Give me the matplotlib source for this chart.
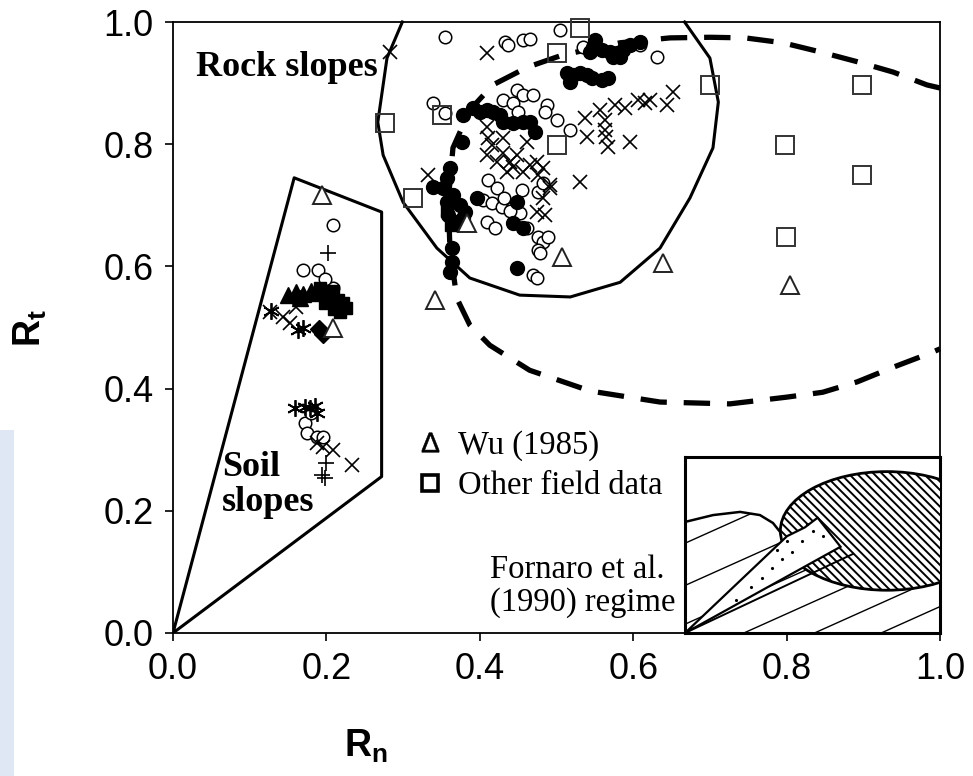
import numpy as np
import matplotlib
matplotlib.use("Agg")
import matplotlib.pyplot as plt
from matplotlib.patches import Polygon, Ellipse, Rectangle
from matplotlib.lines import Line2D

plt.rcParams['font.family'] = ['Liberation Sans', 'DejaVu Sans']
plt.rcParams['mathtext.fontset'] = 'custom'
plt.rcParams['mathtext.bf'] = 'Liberation Sans:bold'
plt.rcParams['mathtext.rm'] = 'Liberation Sans'
plt.rcParams['hatch.linewidth'] = 1.4

# ---------------- data ----------------
# Soil slopes
soil_ftri_x = [0.150, 0.160, 0.170, 0.180, 0.165, 0.188]
soil_ftri_y = [0.553, 0.558, 0.555, 0.560, 0.548, 0.556]
soil_fsq_x = [0.192, 0.200, 0.208, 0.215, 0.222, 0.198, 0.210, 0.218, 0.205, 0.225]
soil_fsq_y = [0.565, 0.555, 0.560, 0.545, 0.540, 0.540, 0.530, 0.525, 0.548, 0.532]
soil_fdia_x = [0.190, 0.196]
soil_fdia_y = [0.497, 0.490]
soil_ocirc_x = [0.209, 0.170, 0.189, 0.209, 0.198, 0.172, 0.175, 0.188, 0.196, 0.180]
soil_ocirc_y = [0.668, 0.594, 0.594, 0.565, 0.580, 0.344, 0.327, 0.321, 0.321, 0.360]
soil_plus_x = [0.202, 0.200, 0.194, 0.198]
soil_plus_y = [0.622, 0.278, 0.259, 0.254]
soil_x_x = [0.126, 0.143, 0.160, 0.152, 0.188, 0.209, 0.233, 0.195]
soil_x_y = [0.525, 0.517, 0.534, 0.508, 0.311, 0.300, 0.275, 0.305]
soil_ast_x = [0.128, 0.163, 0.170, 0.159, 0.179, 0.188, 0.172, 0.185]
soil_ast_y = [0.527, 0.496, 0.500, 0.368, 0.368, 0.360, 0.370, 0.372]

# Rock slopes
rock_ocirc_x = [0.355, 0.433, 0.437, 0.456, 0.465, 0.505, 0.535, 0.609, 0.631,
                0.339, 0.355, 0.448, 0.456, 0.469, 0.430, 0.443, 0.450, 0.488,
                0.485, 0.500, 0.518, 0.411, 0.422, 0.404, 0.416, 0.429, 0.442,
                0.452, 0.409, 0.420, 0.455, 0.476, 0.482, 0.461, 0.476, 0.482,
                0.489, 0.476, 0.478, 0.469, 0.474, 0.440, 0.432]
rock_ocirc_y = [0.975, 0.967, 0.962, 0.970, 0.972, 0.987, 0.959, 0.962, 0.943,
                0.867, 0.851, 0.889, 0.881, 0.881, 0.872, 0.867, 0.853, 0.864,
                0.853, 0.840, 0.823, 0.741, 0.728, 0.709, 0.704, 0.697, 0.696,
                0.687, 0.673, 0.663, 0.725, 0.722, 0.736, 0.663, 0.648, 0.640,
                0.648, 0.627, 0.622, 0.586, 0.581, 0.690, 0.712]
rock_fcirc_x = [0.550, 0.548, 0.544, 0.559, 0.570, 0.579, 0.587, 0.596, 0.609,
                0.574, 0.583, 0.514, 0.522, 0.531, 0.540, 0.546, 0.559, 0.567,
                0.518, 0.378, 0.391, 0.400, 0.409, 0.417, 0.426, 0.430, 0.443,
                0.456, 0.465, 0.472, 0.377, 0.361, 0.357, 0.352, 0.365, 0.357,
                0.374, 0.381, 0.359, 0.378, 0.368, 0.339, 0.396, 0.448, 0.456,
                0.443, 0.448, 0.364, 0.364, 0.361]
rock_fcirc_y = [0.971, 0.959, 0.951, 0.954, 0.951, 0.949, 0.954, 0.962, 0.967,
                0.943, 0.943, 0.917, 0.913, 0.917, 0.913, 0.908, 0.905, 0.908,
                0.902, 0.848, 0.859, 0.853, 0.856, 0.853, 0.848, 0.836, 0.835,
                0.836, 0.836, 0.820, 0.804, 0.761, 0.745, 0.728, 0.717, 0.705,
                0.700, 0.689, 0.684, 0.679, 0.673, 0.730, 0.712, 0.705, 0.663,
                0.671, 0.597, 0.630, 0.607, 0.591]
rock_fsq_x = [0.357, 0.362]
rock_fsq_y = [0.690, 0.668]
rock_x_x = [0.283, 0.409, 0.332, 0.411, 0.416, 0.409, 0.422, 0.430, 0.439,
            0.448, 0.435, 0.443, 0.456, 0.465, 0.474, 0.409, 0.430, 0.461,
            0.482, 0.492, 0.482, 0.474, 0.485, 0.492, 0.476, 0.531, 0.537,
            0.557, 0.576, 0.589, 0.606, 0.615, 0.622, 0.644, 0.652, 0.540,
            0.563, 0.563, 0.565, 0.596, 0.567]
rock_x_y = [0.951, 0.949, 0.750, 0.810, 0.799, 0.782, 0.771, 0.786, 0.771,
            0.782, 0.755, 0.763, 0.755, 0.766, 0.771, 0.828, 0.810, 0.804,
            0.761, 0.733, 0.712, 0.689, 0.684, 0.728, 0.750, 0.738, 0.843,
            0.856, 0.864, 0.859, 0.872, 0.867, 0.872, 0.864, 0.885, 0.812,
            0.840, 0.823, 0.812, 0.804, 0.795]

# Wu (1985) and other field data
wu_x = [0.194, 0.209, 0.383, 0.507, 0.639, 0.342, 0.804]
wu_y = [0.717, 0.500, 0.671, 0.615, 0.606, 0.545, 0.570]
field_x = [0.531, 0.500, 0.351, 0.276, 0.500, 0.313, 0.700, 0.898, 0.798, 0.898, 0.799]
field_y = [0.990, 0.949, 0.848, 0.835, 0.799, 0.712, 0.897, 0.897, 0.799, 0.750, 0.648]

# Region outlines
soil_poly_x = [0.0, 0.158, 0.272, 0.272, 0.0]
soil_poly_y = [0.0, 0.745, 0.689, 0.256, 0.0]
rock_poly_x = [0.299, 0.279, 0.267, 0.274, 0.300, 0.344, 0.387, 0.452, 0.518,
               0.583, 0.635, 0.674, 0.704, 0.711, 0.700, 0.667]
rock_poly_y = [1.000, 0.941, 0.836, 0.782, 0.705, 0.630, 0.581, 0.553, 0.550,
               0.574, 0.630, 0.712, 0.794, 0.869, 0.941, 1.000]
dash_x = [1.000, 0.983, 0.939, 0.892, 0.844, 0.795, 0.746, 0.700, 0.648, 0.583,
          0.508, 0.462, 0.417, 0.387, 0.365, 0.359, 0.361, 0.370, 0.387, 0.413,
          0.465, 0.544, 0.635, 0.726, 0.800, 0.847, 0.892, 0.939, 0.987, 1.000]
dash_y = [0.892, 0.897, 0.918, 0.935, 0.951, 0.966, 0.974, 0.975, 0.974, 0.966,
          0.946, 0.926, 0.897, 0.856, 0.794, 0.709, 0.630, 0.548, 0.504, 0.471,
          0.430, 0.396, 0.378, 0.375, 0.386, 0.394, 0.411, 0.435, 0.458, 0.465]

xticks = [0.0, 0.2, 0.4, 0.6, 0.8, 1.0]
yticks = [0.0, 0.2, 0.4, 0.6, 0.8, 1.0]

# Inset (Fornaro et al. 1990 regime) sketch geometry, inset unit coords
bump_u = [0.0, 0.110, 0.216, 0.294, 0.345, 0.373]
bump_v = [0.631, 0.670, 0.688, 0.670, 0.625, 0.574]
line_c = [0.51, 0.27, 0.05, -0.15, -0.33, -0.50]
wedge_u = [0.0, 0.40, 0.47, 0.52, 0.61, 0.0]
wedge_v = [0.0, 0.55, 0.60, 0.655, 0.49, 0.0]
dots_u = [0.20, 0.26, 0.30, 0.34, 0.38, 0.42, 0.46, 0.50, 0.48, 0.40, 0.54, 0.36]
dots_v = [0.19, 0.26, 0.31, 0.37, 0.42, 0.46, 0.52, 0.58, 0.62, 0.52, 0.55, 0.47]

# ---------------- figure ----------------
W, H = 973, 776
fig = plt.figure(figsize=(W / 100, H / 100), dpi=100)
fig.patch.set_facecolor('white')
# faint watermark strip on the left edge
fig.patches.append(Rectangle((0, 0), 14 / W, (776 - 430) / H, transform=fig.transFigure,
                             facecolor='#dfe7f5', edgecolor='none'))

ax = fig.add_axes([173 / W, (H - 633) / H, (940 - 173) / W, (633 - 22) / H])
ax.set_xlim(0, 1)
ax.set_ylim(0, 1)
for s in ax.spines.values():
    s.set_linewidth(1.3)
ax.set_xticks(xticks)
ax.set_yticks(yticks)
ax.set_xticklabels([f"{t:.1f}" for t in xticks])
ax.set_yticklabels([f"{t:.1f}" for t in yticks])
ax.tick_params(direction='out', length=6, width=1.2, labelsize=26, pad=8)

# outlines
ax.plot(dash_x, dash_y, color='black', lw=3.8, ls=(0, (5, 3.2)), zorder=2, clip_on=False)
ax.plot(soil_poly_x, soil_poly_y, color='black', lw=2.2, zorder=5)
ax.plot(rock_poly_x, rock_poly_y, color='black', lw=2.2, zorder=5, clip_on=False)

oc = dict(ls='none', marker='o', ms=9, mfc='white', mec='black', mew=1.1, zorder=3)
fc = dict(ls='none', marker='o', ms=10, mfc='black', mec='black', zorder=4)
xk = dict(ls='none', marker='x', ms=10, mec='black', mew=1.2, zorder=3)

ax.plot(rock_ocirc_x, rock_ocirc_y, **oc)
ax.plot(soil_ocirc_x, soil_ocirc_y, **oc)
ax.plot(rock_fcirc_x, rock_fcirc_y, **fc)
ax.plot(rock_fsq_x, rock_fsq_y, ls='none', marker='s', ms=8.5, color='black', zorder=4)
ax.plot(rock_x_x, rock_x_y, **xk)
ax.plot(soil_x_x, soil_x_y, **xk)
ax.plot(soil_plus_x, soil_plus_y, ls='none', marker='+', ms=11, mec='black', mew=1.2, zorder=3)
ax.plot(soil_ast_x, soil_ast_y, ls='none', marker=(6, 2, 0), ms=12, mec='black', mew=1.3, zorder=3)
ax.plot(soil_ftri_x, soil_ftri_y, ls='none', marker='^', ms=11, color='black', zorder=4)
ax.plot(soil_fsq_x, soil_fsq_y, ls='none', marker='s', ms=9, color='black', zorder=4)
ax.plot(soil_fdia_x, soil_fdia_y, ls='none', marker='D', ms=9, color='black', zorder=4)
ax.plot(wu_x, wu_y, ls='none', marker='^', ms=13, mfc='white', mec='#222222', mew=1.4, zorder=6)
ax.plot(field_x, field_y, ls='none', marker='s', ms=12.5, mfc='none', mec='#333333', mew=1.4,
        zorder=6, clip_on=False)

serif = ['Liberation Serif', 'DejaVu Serif']
ax.text((196 - 173) / 767, (633 - 68) / 611, 'Rock slopes', family=serif, fontweight='bold',
        fontsize=26, ha='left', va='center', transform=ax.transAxes)
ax.text((222 - 173) / 767, (633 - 485) / 611, 'Soil\nslopes', family=serif, fontweight='bold',
        fontsize=26, ha='left', va='center', linespacing=1.1, transform=ax.transAxes)

# legend for field data
handles = [Line2D([], [], ls='none', marker='$\\Delta$', ms=14, mec='black', mfc='black', mew=0.4),
           Line2D([], [], ls='none', marker='s', ms=11, mfc='white', mec='black', mew=2.6)]
leg = ax.legend(handles, ['Wu (1985)', 'Other field data'], loc='upper left',
                bbox_to_anchor=((414 - 173) / 767, (633 - 430) / 611), frameon=False,
                prop={'family': serif, 'size': 23.5}, handletextpad=0.35, handlelength=1.0,
                labelspacing=0.3, borderpad=0, borderaxespad=0)

ax.text((490 - 173) / 767, (633 - 586) / 611, 'Fornaro et al.\n(1990) regime', family=serif,
        fontsize=23.5, ha='left', va='center', linespacing=1.1, transform=ax.transAxes)

fig.text(366 / W, 1 - 746 / H, r'$\mathbf{R}_\mathbf{n}$', fontsize=27, ha='center', va='center')
fig.text(30 / W, 1 - 328 / H, r'$\mathbf{R}_\mathbf{t}$', fontsize=27, ha='center', va='center',
         rotation=90)

# ---------------- inset ----------------
ins = fig.add_axes([685 / W, (H - 633) / H, (940 - 685) / W, (633 - 457) / H], zorder=10)
ins.set_xlim(0, 1)
ins.set_ylim(0, 1)
ins.set_xticks([])
ins.set_yticks([])
for s in ins.spines.values():
    s.set_linewidth(2.2)
ecx, ecy, ea, eb = 0.792, 0.58, 0.418, 0.337
t = np.linspace(np.pi, 0.0, 200)
eu = ecx + ea * np.cos(t)
ev = ecy + eb * np.sin(t)
keep = eu <= 1.0
clip_pts = [(0, 0)] + list(zip(bump_u, bump_v)) + list(zip(eu[keep], ev[keep])) + \
           [(1.0, ev[keep][-1]), (1.0, 0.0)]
clip_poly = Polygon(clip_pts, closed=True, transform=ins.transData, facecolor='none',
                    edgecolor='none')
ins.add_patch(clip_poly)
uu = np.array([0.0, 1.0])
for c in line_c:
    ln, = ins.plot(uu, 0.65 * uu + c, color='black', lw=1.0, zorder=1)
    ln.set_clip_path(clip_poly)
ins.plot(bump_u, bump_v, color='black', lw=1.8, zorder=2)
ins.add_patch(Ellipse((ecx, ecy), 2 * ea, 2 * eb, facecolor='white', edgecolor='black',
                      hatch='\\\\\\\\', lw=2.0, zorder=3))
ins.add_patch(Polygon(list(zip(wedge_u, wedge_v)), closed=True, facecolor='white',
                      edgecolor='black', lw=1.6, zorder=4))
ins.plot([0.0, 0.66], [0.0, 0.45], color='black', lw=1.4, zorder=4)
ins.plot(dots_u, dots_v, ls='none', marker='.', ms=2.5, color='black', zorder=5)

fig.savefig('out.png', dpi=100)
